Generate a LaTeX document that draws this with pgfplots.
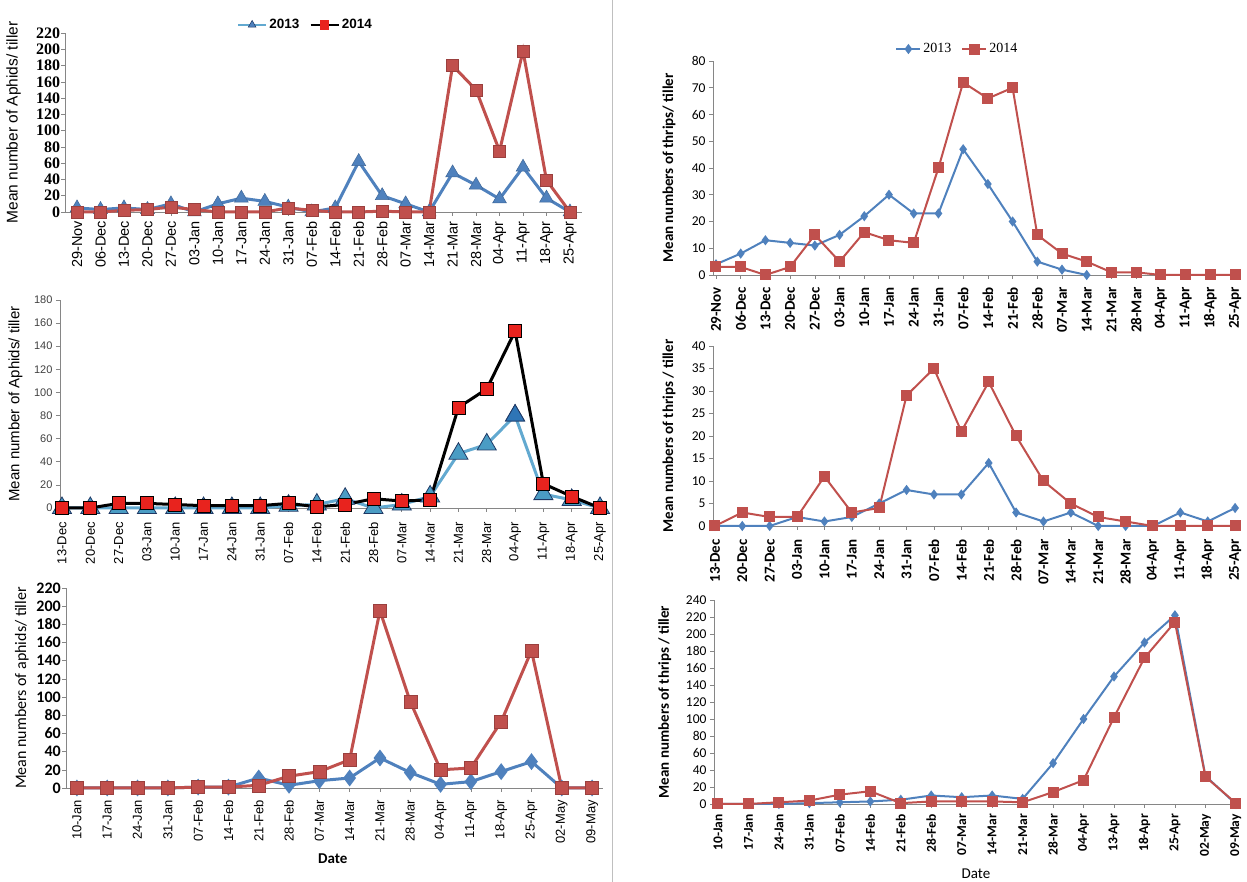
\documentclass[border=0pt]{standalone}
\usepackage{pgfplots}
\usepackage{pgfplotstable}
\usepackage{fontspec}
\pgfplotsset{compat=1.18}
\setmainfont{Liberation Sans}
\newfontfamily\tnr{Liberation Serif}
\newfontfamily\calib{Carlito}
\definecolor{exblue}{HTML}{4F81BD}
\definecolor{exred}{HTML}{C0504D}
\definecolor{tealline}{HTML}{62A9D0}
\definecolor{tealfill}{HTML}{4A9CC4}
\definecolor{darkblue}{HTML}{1F3864}
\definecolor{hlblue}{HTML}{2E75B6}
\definecolor{axgray}{HTML}{868686}
\definecolor{brightred}{HTML}{E8231E}

% aphids, season 1 (29-Nov .. 25-Apr)
\pgfplotstableread{
x a b
0 5 0
1 3 0
2 5 2
3 3 3
4 10 6
5 0 3
6 10 0
7 17 0
8 13 0
9 6 5
10 0 2
11 5 0
12 62 0
13 20 1
14 10 0
15 0 0
16 48 180
17 33 150
18 16 75
19 55 198
20 17 39
21 0 0
}\aphA
% aphids, season 2 (13-Dec .. 25-Apr)
\pgfplotstableread{
x a b
0 0 0
1 0 0
2 0 4
3 0 4
4 0 3
5 0 2
6 0 2
7 0 2
8 2 4
9 3 1
10 8 3
11 0 8
12 3 6
13 10 7
14 47 87
15 55 103
16 80 153
17 12 21
18 7 10
19 0 0
}\aphB
% aphids, season 3 (10-Jan .. 09-May)
\pgfplotstableread{
x a b
0 0 0
1 0 0
2 0 0
3 0 0
4 1 1
5 1 1
6 11 3
7 3 13
8 8 18
9 11 31
10 33 195
11 17 95
12 4 20
13 7 22
14 18 73
15 29 151
16 0 0
17 0 0
}\aphC
% thrips, season 1
\pgfplotstableread{
x a b
0 4 3
1 8 3
2 13 0
3 12 3
4 11 15
5 15 5
6 22 16
7 30 13
8 23 12
9 23 40
10 47 72
11 34 66
12 20 70
13 5 15
14 2 8
15 0 5
16 nan 1
17 nan 1
18 nan 0
19 nan 0
20 nan 0
21 nan 0
}\thrA
% thrips, season 2
\pgfplotstableread{
x a b
0 0 0
1 0 3
2 0 2
3 2 2
4 1 11
5 2 3
6 5 4
7 8 29
8 7 35
9 7 21
10 14 32
11 3 20
12 1 10
13 3 5
14 0 2
15 0 1
16 0 0
17 3 0
18 1 0
19 4 0
}\thrB
% thrips, season 3
\pgfplotstableread{
x a b
0 0 0
1 0 0
2 0 2
3 1 4
4 2 11
5 3 15
6 5 1
7 10 3
8 8 3
9 10 3
10 6 2
11 48 14
12 100 28
13 150 102
14 190 172
15 222 214
16 33 32
17 0 1
}\thrC

\pgfplotsset{
  excel/.style={
    scale only axis, anchor=south west,
    axis x line*=bottom, axis y line*=left,
    axis line style={axgray, line width=0.8pt, -},
    ymin=0, clip=false,
    tick align=outside, tick style={axgray, line width=0.6pt},
    major tick length=4pt,
    xticklabel style={rotate=90, anchor=east},
    /pgf/number format/assume math mode=true,
    unbounded coords=jump,
  },
}
\def\catsA{29-Nov,06-Dec,13-Dec,20-Dec,27-Dec,03-Jan,10-Jan,17-Jan,24-Jan,31-Jan,07-Feb,14-Feb,21-Feb,28-Feb,07-Mar,14-Mar,21-Mar,28-Mar,04-Apr,11-Apr,18-Apr,25-Apr}
\def\catsB{13-Dec,20-Dec,27-Dec,03-Jan,10-Jan,17-Jan,24-Jan,31-Jan,07-Feb,14-Feb,21-Feb,28-Feb,07-Mar,14-Mar,21-Mar,28-Mar,04-Apr,11-Apr,18-Apr,25-Apr}
\def\catsC{10-Jan,17-Jan,24-Jan,31-Jan,07-Feb,14-Feb,21-Feb,28-Feb,07-Mar,14-Mar,21-Mar,28-Mar,04-Apr,11-Apr,18-Apr,25-Apr,02-May,09-May}
\def\catsD{10-Jan,17-Jan,24-Jan,31-Jan,07-Feb,14-Feb,21-Feb,28-Feb,07-Mar,14-Mar,21-Mar,28-Mar,04-Apr,13-Apr,18-Apr,25-Apr,02-May,09-May}

\begin{document}
\begin{tikzpicture}
\path[use as bounding box] (0pt,0pt) rectangle (1247pt,882pt);
\draw[gray!50, line width=0.8pt] (612pt,0pt) -- (612pt,882pt);

% ---------- top left
\begin{axis}[excel, at={(65.3pt,670pt)}, width=516.4pt, height=179pt,
  xmin=-0.5, xmax=21.5, ymax=220, ytick={0,20,...,220}, xtick={0,...,21},
  xticklabels/.expand once={\catsA},
  xticklabel style={font=\fontsize{14.5}{14.5}\selectfont, inner sep=5pt},
  yticklabel style={font=\tnr\bfseries\fontsize{16}{16}\selectfont, inner sep=1pt},
  ylabel={Mean number of Aphids/ tiller},
  ylabel style={at={(axis description cs:-0.1,0.5)}, anchor=center, font=\fontsize{15.5}{15.5}\selectfont},
  legend style={at={(axis description cs:0.465,1.045)}, anchor=center, draw=none, fill=none,
    legend columns=2, font=\bfseries\fontsize{13.5}{13.5}\selectfont,
    /tikz/every even column/.append style={column sep=8pt}},
  legend image code/.code={\draw[mark repeat=2,mark phase=2] plot coordinates {(0pt,0pt) (14pt,0pt) (28pt,0pt)};},
]
\addlegendimage{tealline, line width=2.5pt, mark=triangle*, mark size=4.5pt, mark options={fill=exblue, draw=darkblue, line width=0.5pt}}
\addlegendentry{2013}
\addlegendimage{black, line width=2.5pt, mark=square*, mark size=3.5pt, mark options={fill=brightred, draw=brightred}}
\addlegendentry{2014}
\addplot[forget plot, exblue, line width=3pt, mark=triangle*, mark size=8pt, mark options={fill=exblue, draw=exblue!80!black, line width=0.5pt}] table[x=x,y=a] {\aphA};
\addplot[forget plot, exred, line width=3pt, mark=square*, mark size=6pt, mark options={fill=exred, draw=exred!80!black, line width=0.5pt}] table[x=x,y=b] {\aphA};
\end{axis}

% ---------- middle left
\begin{axis}[excel, at={(60pt,374pt)}, width=542pt, height=208pt,
  xmin=-0.07, xmax=19.07, ymax=180, ytick={0,20,...,180}, xtick={0,...,19},
  xticklabels/.expand once={\catsB},
  xticklabel style={font=\fontsize{13}{13}\selectfont, inner sep=10pt},
  yticklabel style={font=\fontsize{11}{11}\selectfont, text=black!75},
  ylabel={Mean number of Aphids/ tiller},
  ylabel style={at={(axis description cs:-0.082,0.5)}, anchor=center, font=\fontsize{15}{15}\selectfont},
]
\addplot[tealline, line width=3pt, mark=triangle*, mark size=11pt, mark options={fill=tealfill, draw=darkblue, line width=0.8pt}] table[x=x,y=a] {\aphB};
\addplot[black, line width=3pt, mark=square*, mark size=6.5pt, mark options={fill=brightred, draw=black, line width=0.8pt}] table[x=x,y=b] {\aphB};
\addplot[only marks, mark=triangle*, mark size=11pt, mark options={fill=hlblue, draw=darkblue, line width=0.8pt}] coordinates {(16,80)};
\addplot[only marks, mark=square*, mark size=6.5pt, mark options={fill=brightred, draw=black, line width=0.8pt}] coordinates {(16,153)};
\end{axis}

% ---------- bottom left
\begin{axis}[excel, at={(66pt,94pt)}, width=537pt, height=200pt,
  xmin=-0.36, xmax=17.36, ymax=220, ytick={0,20,...,220}, xtick={0,...,17},
  xticklabels/.expand once={\catsC},
  xticklabel style={font=\fontsize{13}{13}\selectfont, inner sep=8pt},
  yticklabel style={font=\calib\bfseries\fontsize{16}{16}\selectfont, inner sep=1pt},
  ylabel={Mean numbers of aphids/ tiller},
  ylabel style={at={(axis description cs:-0.082,0.5)}, anchor=center, font=\calib\fontsize{16}{16}\selectfont},
  xlabel={Date},
  xlabel style={at={(axis description cs:0.497,-0.355)}, anchor=center, font=\calib\bfseries\fontsize{15}{15}\selectfont},
]
\addplot[exblue, line width=3pt, mark=diamond*, mark size=6pt, mark options={fill=exblue, draw=exblue}] table[x=x,y=a] {\aphC};
\addplot[exred, line width=3pt, mark=square*, mark size=6.5pt, mark options={fill=exred, draw=exred!80!black, line width=0.5pt}] table[x=x,y=b] {\aphC};
\end{axis}

% ---------- top right
\begin{axis}[excel, at={(713pt,607pt)}, width=524.5pt, height=214pt,
  xmin=-0.12, xmax=21.1, ymax=80, ytick={0,10,...,80}, xtick={0,...,21},
  xticklabels/.expand once={\catsA},
  xticklabel style={font=\calib\bfseries\fontsize{15}{15}\selectfont, inner sep=8pt},
  yticklabel style={font=\calib\fontsize{13.5}{13.5}\selectfont},
  ylabel={Mean numbers of thrips/ tiller},
  ylabel style={at={(axis description cs:-0.084,0.5)}, anchor=center, font=\calib\bfseries\fontsize{15}{15}\selectfont},
  legend style={at={(axis description cs:0.466,1.056)}, anchor=center, draw=none, fill=none,
    legend columns=2, font=\tnr\fontsize{14}{14}\selectfont,
    /tikz/every even column/.append style={column sep=8pt}},
  legend image code/.code={\draw[mark repeat=2,mark phase=2] plot coordinates {(0pt,0pt) (12pt,0pt) (24pt,0pt)};},
]
\addplot[exblue, line width=2pt, mark=diamond*, mark size=3.5pt, mark options={fill=exblue, draw=exblue}] table[x=x,y=a] {\thrA};
\addlegendentry{2013}
\addplot[exred, line width=2pt, mark=square*, mark size=4.5pt, mark options={fill=exred, draw=exred}] table[x=x,y=b] {\thrA};
\addlegendentry{2014}
\end{axis}

% ---------- middle right
\begin{axis}[excel, at={(713pt,356pt)}, width=524pt, height=180pt,
  xmin=-0.07, xmax=19.07, ymax=40, ytick={0,5,...,40}, xtick={0,...,19},
  xticklabels/.expand once={\catsB},
  xticklabel style={font=\calib\bfseries\fontsize{15}{15}\selectfont, inner sep=9pt},
  yticklabel style={font=\calib\fontsize{13.5}{13.5}\selectfont},
  ylabel={Mean numbers of thrips / tiller},
  ylabel style={at={(axis description cs:-0.084,0.5)}, anchor=center, font=\calib\bfseries\fontsize{15}{15}\selectfont},
]
\addplot[exblue, line width=2pt, mark=diamond*, mark size=3.5pt, mark options={fill=exblue, draw=exblue}] table[x=x,y=a] {\thrB};
\addplot[exred, line width=2pt, mark=square*, mark size=4.5pt, mark options={fill=exred, draw=exred}] table[x=x,y=b] {\thrB};
\end{axis}

% ---------- bottom right
\begin{axis}[excel, at={(714pt,78pt)}, width=524pt, height=204pt,
  xmin=-0.13, xmax=17.07, ymax=240, ytick={0,20,...,240}, xtick={0,...,17},
  xticklabels/.expand once={\catsD},
  xticklabel style={font=\calib\bfseries\fontsize{13.5}{13.5}\selectfont, inner sep=6pt},
  yticklabel style={font=\calib\fontsize{13.5}{13.5}\selectfont},
  ylabel={Mean numbers of thrips / tiller},
  ylabel style={at={(axis description cs:-0.094,0.5)}, anchor=center, font=\calib\bfseries\fontsize{15}{15}\selectfont},
  xlabel={Date},
  xlabel style={at={(axis description cs:0.50,-0.34)}, anchor=center, font=\calib\fontsize{15}{15}\selectfont},
]
\addplot[exblue, line width=2pt, mark=diamond*, mark size=3.5pt, mark options={fill=exblue, draw=exblue}] table[x=x,y=a] {\thrC};
\addplot[exred, line width=2pt, mark=square*, mark size=4.5pt, mark options={fill=exred, draw=exred}] table[x=x,y=b] {\thrC};
\end{axis}
\end{tikzpicture}
\end{document}
